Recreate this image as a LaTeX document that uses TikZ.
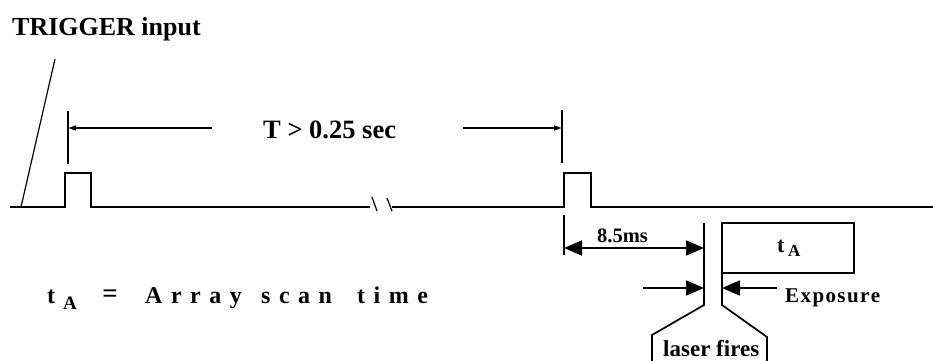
\documentclass[tikz,border=0pt]{standalone}
\usepackage{fontspec}
\setmainfont{Liberation Serif}
\usetikzlibrary{arrows.meta}
\newcommand\lsp{\hspace{8.5pt}}
\newcommand\fsz[1]{\fontsize{#1}{#1}\selectfont}
\begin{document}
\begin{tikzpicture}[x=1pt,y=-1pt,
  wire/.style={line width=1.7pt, line join=miter},
  thinline/.style={line width=1.2pt},
  lbl/.style={inner sep=0pt, anchor=base west, font=\bfseries},
  bigarrow/.style={-{Triangle[length=18pt,width=15pt]}, line width=1.7pt},
  smallarrow/.style={-{Triangle[length=8pt,width=5pt]}, line width=1.4pt}]
\useasboundingbox (0,0) rectangle (933,360);

% coordinates of the signal line
\coordinate (s0) at (10,207);
\coordinate (p1a) at (65,207);
\coordinate (p1b) at (65,173);
\coordinate (p1c) at (91,173);
\coordinate (p1d) at (91,207);
\coordinate (brk1) at (370,207);
\coordinate (brk2) at (392,207);
\coordinate (p2a) at (564,207);
\coordinate (p2b) at (564,173);
\coordinate (p2c) at (591,173);
\coordinate (p2d) at (591,207);
\coordinate (s1) at (933,207);

\draw[wire] (s0) -- (p1a) -- (p1b) -- (p1c) -- (p1d) -- (brk1);
\draw[wire] (brk2) -- (p2a) -- (p2b) -- (p2c) -- (p2d) -- (s1);
% break marks
\coordinate (k1a) at (372,197); \coordinate (k1b) at (377,211);
\coordinate (k2a) at (387,198); \coordinate (k2b) at (392,211);
\draw[thinline] (k1a) -- (k1b);
\draw[thinline] (k2a) -- (k2b);

% trigger diagonal
\coordinate (d0) at (21,207);
\coordinate (d1) at (55,59);
\draw[thinline] (d0) -- (d1);

% T marker lines
\coordinate (m1a) at (68,111); \coordinate (m1b) at (68,164);
\coordinate (m2a) at (562,110); \coordinate (m2b) at (562,163);
\draw[wire] (m1a) -- (m1b);
\draw[wire] (m2a) -- (m2b);
\coordinate (t1) at (212,128); \coordinate (t1e) at (68,128);
\coordinate (t2) at (463,128); \coordinate (t2e) at (562,128);
\draw[smallarrow] (t1) -- (t1e);
\draw[smallarrow] (t2) -- (t2e);

% lower marker and 8.5 ms
\coordinate (m3a) at (564,215); \coordinate (m3b) at (564,255);
\draw[wire] (m3a) -- (m3b);
\coordinate (va0) at (704,223); \coordinate (va1) at (704,305);
\coordinate (va2) at (652,335); \coordinate (va3) at (652,365);
\coordinate (vb0) at (722,223); \coordinate (vb1) at (722,305);
\coordinate (vb2) at (767,337); \coordinate (vb3) at (767,365);
\draw[wire] (va0) -- (va1) -- (va2) -- (va3);
\draw[wire] (vb0) -- (vb1) -- (vb2) -- (vb3);
\coordinate (ms0) at (564,248); \coordinate (ms1) at (704,248);
\draw[bigarrow, {Triangle[length=18pt,width=15pt]}-{Triangle[length=18pt,width=15pt]}] (ms0) -- (ms1);

% tA box
\coordinate (bx1) at (854,273);
\draw[wire] (vb0) rectangle (bx1);

% exposure arrows
\coordinate (e0) at (643,288); \coordinate (e0e) at (704,288);
\coordinate (e1) at (777,288); \coordinate (e1e) at (722,288);
\draw[bigarrow] (e0) -- (e0e);
\draw[bigarrow] (e1) -- (e1e);

% texts
\node[lbl, font=\bfseries\fsz{26}] (trig) at (12,35) {TRIGGER input};
\node[lbl, font=\bfseries\fsz{26.5}] (tgt) at (263,138) {T > 0.25 sec};
\node[lbl, font=\bfseries\fsz{20.5}] (ms) at (597,242) {8.5ms};
\node[lbl, font=\bfseries\fsz{22}] (bt) at (777,252) {t};
\node[lbl, font=\bfseries\fsz{17}] (bA) at (788,256) {A};
\node[lbl, font=\bfseries\fsz{21}] (expo) at (785,302) {E\kern1.4pt x\kern1.4pt p\kern1.4pt o\kern1.4pt s\kern1.4pt u\kern1.4pt r\kern1.4pt e};
\node[lbl, font=\bfseries\fsz{23}] (laser) at (663,356) {laser fires};

\node[lbl, font=\bfseries\fsz{24}] (lt) at (47,303) {t};
\node[lbl, font=\bfseries\fsz{19}] (lA) at (63,309) {A};
\node[inner sep=0pt, anchor=base, font=\bfseries\fsz{27}] (leq) at (110,302) {=};
\node[lbl, font=\bfseries\fsz{24}] (w1) at (145,303) {A\lsp r\lsp r\lsp a\lsp y};
\node[lbl, font=\bfseries\fsz{24}] (w2) at (261,303) {s\lsp c\lsp a\lsp n};
\node[lbl, font=\bfseries\fsz{24}] (w3) at (357,303) {t\lsp i\lsp m\lsp e};
\end{tikzpicture}
\end{document}
